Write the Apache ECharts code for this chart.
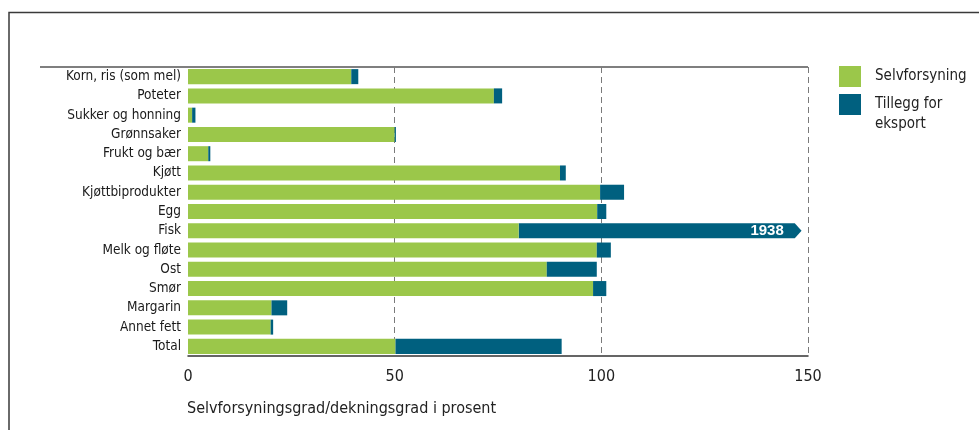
<!DOCTYPE html>
<html>
<head>
<meta charset="utf-8">
<script src="https://cdn.jsdelivr.net/npm/echarts@6/dist/echarts.min.js"></script>
<style>
  html, body { margin: 0; padding: 0; background: #fff; }
  #chart { width: 979px; height: 430px; }
</style>
</head>
<body>
<div id="chart"></div>
<script>
// Kategorier (matvaregrupper), ovenfra og ned
const categories = [
  'Korn, ris (som mel)', 'Poteter', 'Sukker og honning', 'Grønnsaker', 'Frukt og bær',
  'Kjøtt', 'Kjøttbiprodukter', 'Egg', 'Fisk', 'Melk og fløte', 'Ost', 'Smør',
  'Margarin', 'Annet fett', 'Total'
];
// Selvforsyningsgrad i prosent
const selvforsyning = [39.5, 74, 1, 50, 4.9, 90, 99.7, 99, 80, 98.9, 86.8, 98, 20.2, 20, 50.2];
// Tillegg for eksport (dekningsgrad minus selvforsyningsgrad), prosentpoeng
const tilleggEksport = [1.7, 2, 0.8, 0.3, 0.5, 1.4, 5.8, 2.2, 1858, 3.4, 12.1, 3.2, 3.8, 0.6, 40.2];
// Verdiakse
const xTicks = [0, 50, 100, 150];

const X_MIN = xTicks[0];
const X_MAX = xTicks[xTicks.length - 1];
const X_STEP = xTicks[1] - xTicks[0];

const GREEN = '#9BC74A';
const BLUE = '#00607F';
const NARROW = "'Liberation Sans Narrow', 'DejaVu Sans Condensed', sans-serif";

// Stolper som går utenfor aksen tegnes som pil med verdien skrevet inn
const overflow = [];
const tilleggBars = tilleggEksport.map((v, i) => {
  const total = selvforsyning[i] + v;
  if (total > X_MAX) {
    overflow.push([selvforsyning[i], i, Math.round(total)]);
    return '-';
  }
  return v;
});

const chart = echarts.init(document.getElementById('chart'), null, { renderer: 'canvas' });

chart.setOption({
  animation: false,
  backgroundColor: '#fff',
  textStyle: { fontFamily: NARROW },
  grid: { left: 188, right: 171, top: 67, height: 289, containLabel: false },
  title: {
    text: 'Selvforsyningsgrad/dekningsgrad i prosent',
    left: 187, top: 401, padding: 0,
    textStyle: { fontFamily: NARROW, fontSize: 16, fontWeight: 'normal', color: '#222' }
  },
  legend: [
    {
      data: [{ name: 'Selvforsyning', icon: 'rect' }],
      left: 839, top: 66, padding: 0, orient: 'vertical',
      itemWidth: 22, itemHeight: 21, selectedMode: false,
      textStyle: { fontFamily: NARROW, fontSize: 15, color: '#222', padding: [0, 0, 0, 9] }
    },
    {
      data: [{ name: 'Tillegg for eksport', icon: 'path://M0,0H22V21H0Z M0,40.95H0.01V41H0Z' }],
      left: 839, top: 94, padding: 0, orient: 'vertical',
      itemWidth: 22, itemHeight: 41, selectedMode: false,
      formatter: () => 'Tillegg for\neksport',
      textStyle: { fontFamily: NARROW, fontSize: 15, lineHeight: 20, color: '#222', padding: [0, 0, 0, 9] }
    }
  ],
  xAxis: {
    type: 'value', min: X_MIN, max: X_MAX, interval: X_STEP,
    axisLine: { show: true, lineStyle: { color: '#333', width: 1.5 } },
    axisTick: { show: false },
    axisLabel: { margin: 13, fontFamily: NARROW, fontSize: 16, color: '#222' },
    splitLine: {
      show: true,
      lineStyle: { color: ['rgba(0,0,0,0)', '#7a7a7a', '#7a7a7a', '#7a7a7a'], type: [6, 4], width: 1 }
    }
  },
  yAxis: {
    type: 'category', data: categories, inverse: true,
    axisLine: { show: false }, axisTick: { show: false },
    axisLabel: { interval: 0, margin: 7, fontFamily: NARROW, fontSize: 13.5, color: '#1a1a1a' }
  },
  graphic: [
    // ramme rundt figuren
    { type: 'polyline', silent: true, shape: { points: [[9, 430], [9, 12.5], [979, 12.5]] },
      style: { stroke: '#3a3a3a', lineWidth: 1.5, fill: null } },
    // linje over diagrammet
    { type: 'line', silent: true, shape: { x1: 40, y1: 67, x2: 808, y2: 67 },
      style: { stroke: '#555', lineWidth: 1.5 } }
  ],
  series: [
    {
      name: 'Selvforsyning', type: 'bar', stack: 'grad', data: selvforsyning,
      barCategoryGap: '22%', itemStyle: { color: GREEN }
    },
    {
      name: 'Tillegg for eksport', type: 'bar', stack: 'grad', data: tilleggBars,
      barCategoryGap: '22%', itemStyle: { color: BLUE }
    },
    {
      name: 'Tillegg for eksport', type: 'custom', data: overflow,
      encode: { x: [0, 2], y: 1 },
      itemStyle: { color: BLUE },
      renderItem(params, api) {
        const start = api.value(0);
        const cat = api.value(1);
        const total = api.value(2);
        const p0 = api.coord([start, cat]);
        const bodyEnd = api.coord([X_MAX - 3.2, cat])[0];
        const h = api.size([0, 1])[1] * 0.78;
        const tip = bodyEnd + h * 0.45;
        const y0 = p0[1] - h / 2, y1 = p0[1] + h / 2;
        return {
          type: 'group',
          children: [
            { type: 'polygon',
              shape: { points: [[p0[0], y0], [bodyEnd, y0], [tip, p0[1]], [bodyEnd, y1], [p0[0], y1]] },
              style: { fill: BLUE } },
            { type: 'text',
              style: { text: String(total), x: bodyEnd - 11, y: p0[1] + 0.5, align: 'right', verticalAlign: 'middle',
                fill: '#fff', font: "bold 15px 'Liberation Sans', sans-serif" } }
          ]
        };
      }
    }
  ]
});
</script>
</body>
</html>
